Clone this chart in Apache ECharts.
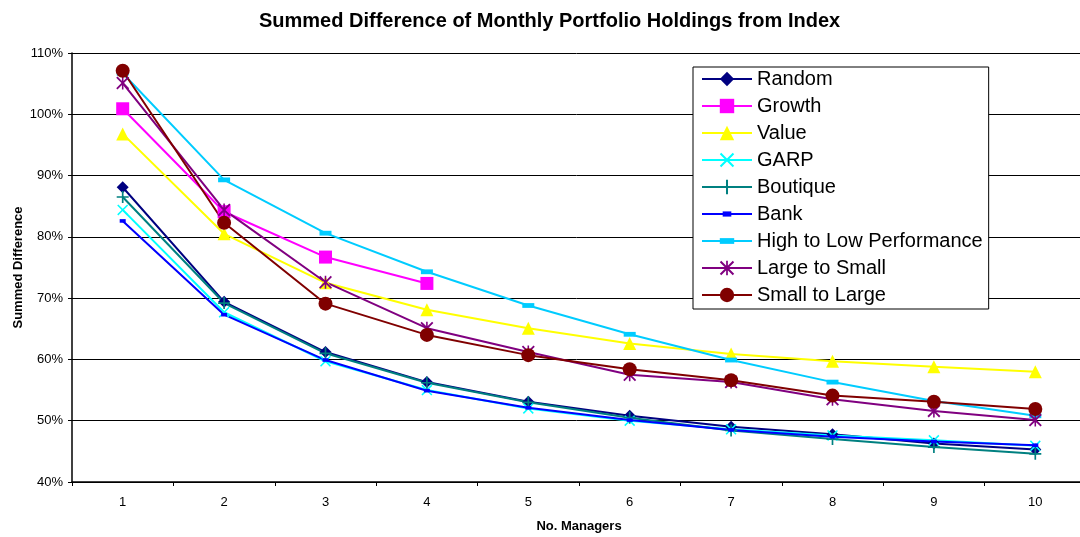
<!DOCTYPE html>
<html>
<head>
<meta charset="utf-8">
<script src="https://cdn.jsdelivr.net/npm/echarts@6/dist/echarts.min.js"></script>
<style>html,body{margin:0;padding:0;background:#fff}#c{width:1080px;height:537px}</style>
</head>
<body>
<div id="c"></div>
<script>
const categories = ['1','2','3','4','5','6','7','8','9','10'];
const random = [88.1, 69.4, 61.2, 56.3, 53.1, 50.8, 49.0, 47.8, 46.3, 45.3];
const growth = [100.9, 84.1, 76.7, 72.4];
const value = [96.8, 80.5, 72.5, 68.1, 65.1, 62.6, 60.9, 59.7, 58.8, 58.0];
const garp = [84.4, 67.7, 59.7, 55.0, 52.0, 50.0, 48.6, 47.6, 46.8, 45.9];
const boutique = [86.5, 69.2, 61.0, 56.2, 53.0, 50.5, 48.4, 47.0, 45.7, 44.6];
const bank = [82.6, 67.3, 59.9, 54.9, 52.1, 50.1, 48.5, 47.4, 46.6, 46.0];
const highLow = [106.7, 89.3, 80.6, 74.3, 68.8, 64.1, 59.9, 56.3, 53.2, 50.8];
const largeSmall = [105.1, 84.4, 72.6, 65.1, 61.2, 57.5, 56.3, 53.5, 51.6, 50.1];
const smallLarge = [107.1, 82.3, 69.1, 64.0, 60.7, 58.4, 56.6, 54.1, 53.1, 51.9];
const yTicks = {min: 40, max: 110, interval: 10};

const FONT = "'Liberation Sans', Arial, sans-serif";
const X_PATH = 'path://M0,1L1,0L5,4L9,0L10,1L6,5L10,9L9,10L5,6L1,10L0,9L4,5Z';
const PLUS_PATH = 'path://M4.3,0H5.7V4.3H10V5.7H5.7V10H4.3V5.7H0V4.3H4.3Z';
const STAR_PATH = 'path://M0,1L1,0L5,4L9,0L10,1L6,5L10,9L9,10L5,6L1,10L0,9L4,5ZM4.4,0H5.6V10H4.4Z';
const SMALL_DASH = 'path://M0,0M10,10M2,3.2H8V6.8H2Z';
const WIDE_DASH = 'path://M0,0M10,10M0,3H10V7H0Z';

function mk(name, data, color, symbol, size) {
  return {
    name, type: 'line', data, symbol, symbolSize: size,
    showAllSymbol: true,
    lineStyle: {color, width: 2},
    itemStyle: {color},
    emphasis: {disabled: true}
  };
}

const chart = echarts.init(document.getElementById('c'), null, {renderer: 'canvas'});
chart.setOption({
  animation: false,
  backgroundColor: '#fff',
  title: {
    text: 'Summed Difference of Monthly Portfolio Holdings from Index',
    left: 254, top: 6,
    textStyle: {fontFamily: FONT, fontSize: 20, fontWeight: 'bold', color: '#000'}
  },
  grid: {left: 72, top: 53, width: 1014, height: 429, containLabel: false, outerBoundsMode: 'none'},
  legend: {
    orient: 'vertical', left: 693, top: 67,
    itemWidth: 50, itemHeight: 18, itemGap: 5,
    padding: [1, 6, 3, 8],
    borderColor: '#000', borderWidth: 1, backgroundColor: '#fff',
    textStyle: {fontFamily: FONT, fontSize: 20, lineHeight: 22, color: '#000'},
    data: ['Random','Growth','Value','GARP','Boutique','Bank','High to Low Performance','Large to Small','Small to Large']
  },
  xAxis: {
    type: 'category', data: categories, boundaryGap: true,
    name: 'No. Managers', nameLocation: 'middle', nameGap: 38, nameMoveOverlap: false,
    nameTextStyle: {fontFamily: FONT, fontSize: 13, fontWeight: 'bold', color: '#000'},
    axisLine: {lineStyle: {color: '#000', width: 1.5}},
    axisTick: {show: true, length: 4, lineStyle: {color: '#000'}},
    axisLabel: {fontFamily: FONT, fontSize: 13, color: '#000', margin: 14},
    splitLine: {show: false}
  },
  yAxis: {
    type: 'value', min: yTicks.min, max: yTicks.max, interval: yTicks.interval,
    name: 'Summed Difference', nameLocation: 'middle', nameGap: 47, nameMoveOverlap: false,
    nameTextStyle: {fontFamily: FONT, fontSize: 13, fontWeight: 'bold', color: '#000'},
    axisLine: {show: true, lineStyle: {color: '#000', width: 1.5}},
    axisTick: {show: true, length: 4, lineStyle: {color: '#000'}},
    axisLabel: {fontFamily: FONT, fontSize: 13, color: '#000', margin: 9, formatter: '{value}%'},
    splitLine: {show: true, lineStyle: {color: '#000', width: 1}}
  },
  series: [
    mk('Random', random, '#000080', 'diamond', 12),
    mk('Growth', growth, '#FF00FF', 'rect', 13),
    mk('Value', value, '#FFFF00', 'triangle', 13),
    mk('GARP', garp, '#00FFFF', X_PATH, 11),
    mk('Boutique', boutique, '#008080', PLUS_PATH, 12),
    mk('Bank', bank, '#0000FF', SMALL_DASH, 10),
    mk('High to Low Performance', highLow, '#00CCFF', WIDE_DASH, 12),
    mk('Large to Small', largeSmall, '#800080', STAR_PATH, 13),
    mk('Small to Large', smallLarge, '#800000', 'circle', 14)
  ]
});
</script>
</body>
</html>
